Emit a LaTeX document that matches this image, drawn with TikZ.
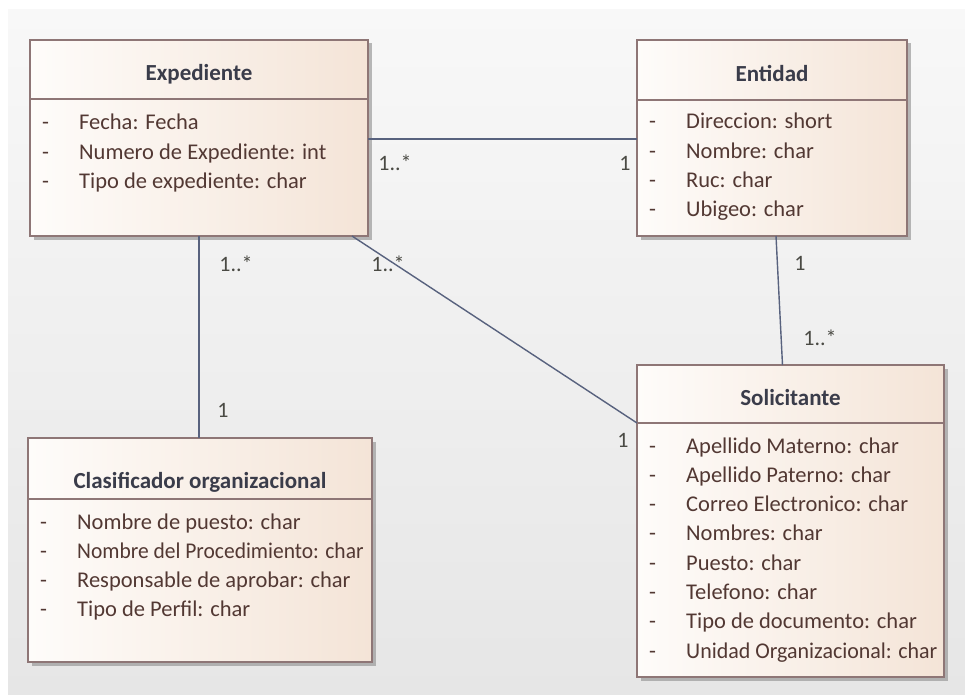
\documentclass[tikz,border=0pt]{standalone}
\usepackage{fontspec}
\usepackage{graphicx}
\setmainfont{Carlito}
\usetikzlibrary{shadows,calc}
\definecolor{bgtop}{HTML}{F8F8F8}
\definecolor{bgbot}{HTML}{E6E6E6}
\definecolor{boxborder}{HTML}{8E7676}
\definecolor{boxleft}{HTML}{FEFCFA}
\definecolor{boxright}{HTML}{F4E4D7}
\definecolor{titlecol}{HTML}{3A3C4A}
\definecolor{attrcol}{HTML}{523833}
\definecolor{linecol}{HTML}{58627E}
\definecolor{multcol}{HTML}{4A4A44}
\tikzset{
  classbox/.style={rectangle, draw=boxborder, line width=1.3pt, left color=boxleft, right color=boxright,
    inner sep=0pt, outer sep=0pt, anchor=north west,
    drop shadow={shadow xshift=3.5pt, shadow yshift=-3.5pt, fill=black!45, opacity=0.6}},
  sepline/.style={draw=boxborder, line width=1.3pt},
  classtitle/.style={font=\fontsize{23}{27}\selectfont\bfseries, text=titlecol, inner sep=0pt},
  attrs/.style={font=\fontsize{22.5}{29.3}\selectfont, text=attrcol, inner sep=0pt, anchor=base west},
  assoc/.style={draw=linecol, line width=1.4pt},
  mult/.style={font=\fontsize{22}{26}\selectfont, text=multcol, inner sep=0pt}
}
\newcommand{\attrtab}[1]{\begin{tabular}[t]{@{}p{37pt}@{}l@{}}#1\end{tabular}}
\begin{document}
\begin{tikzpicture}[x=1pt,y=-1pt]
\useasboundingbox (0,0) rectangle (965,695);
\fill[white] (0,0) rectangle (965,695);
\shade[top color=bgtop, bottom color=bgbot] (8,10) rectangle (965,695);

% Expediente
\node[classbox, minimum width=338pt, minimum height=196pt] (exp) at (30,40) {};
\draw[sepline] ([yshift=-59pt]exp.north west) -- ([yshift=-59pt]exp.north east);
\node[classtitle] (expt) at ([yshift=-34pt]exp.north) {Expediente};
\node[attrs] (expa) at ([xshift=12pt,yshift=-90pt]exp.north west) {\attrtab{%
- & Fecha: Fecha\\
- & Numero de Expediente: int\\
- & Tipo de expediente: char}};

% Entidad
\node[classbox, minimum width=270pt, minimum height=196pt] (ent) at (637,40) {};
\draw[sepline] ([yshift=-60pt]ent.north west) -- ([yshift=-60pt]ent.north east);
\node[classtitle] (entt) at ([yshift=-33pt]ent.north) {Entidad};
\node[attrs] (enta) at ([xshift=12pt,yshift=-89pt]ent.north west) {\attrtab{%
- & Direccion: short\\
- & Nombre: char\\
- & Ruc: char\\
- & Ubigeo: char}};

% Solicitante
\node[classbox, minimum width=307pt, minimum height=312pt] (sol) at (637,365) {};
\draw[sepline] ([yshift=-58pt]sol.north west) -- ([yshift=-58pt]sol.north east);
\node[classtitle] (solt) at ([yshift=-33pt]sol.north) {Solicitante};
\node[attrs] (sola) at ([xshift=12pt,yshift=-88pt]sol.north west) {\attrtab{%
- & Apellido Materno: char\\
- & Apellido Paterno: char\\
- & Correo Electronico: char\\
- & Nombres: char\\
- & Puesto: char\\
- & Telefono: char\\
- & Tipo de documento: char\\
- & \scalebox{0.975}[1]{Unidad Organizacional: char}}};

% Clasificador organizacional
\node[classbox, minimum width=344pt, minimum height=224pt] (cla) at (28,438) {};
\draw[sepline] ([yshift=-61pt]cla.north west) -- ([yshift=-61pt]cla.north east);
\node[classtitle] (clat) at ([yshift=-44pt]cla.north) {Clasificador organizacional};
\node[attrs] (claa) at ([xshift=12pt,yshift=-91pt]cla.north west) {\attrtab{%
- & Nombre de puesto: char\\
- & \scalebox{0.955}[1]{Nombre del Procedimiento: char}\\
- & Responsable de aprobar: char\\
- & Tipo de Perfil: char}};

% Associations
\draw[assoc] ([yshift=-99pt]exp.north east) -- ([yshift=-99pt]ent.north west);
\draw[assoc] (exp.south) -- (exp.south |- cla.north);
\draw[assoc] ([xshift=-16pt]exp.south east) -- ([yshift=-58pt]sol.north west);
\draw[assoc] ([xshift=4pt]ent.south) -- ([xshift=-8pt]sol.north);

% Multiplicities
\node[mult] (m1) at (395,163) {1..*};
\node[mult] (m2) at (625,163) {1};
\node[mult] (m3) at (388,264) {1..*};
\node[mult] (m4) at (623,440) {1};
\node[mult] (m5) at (236,264) {1..*};
\node[mult] (m6) at (223,410) {1};
\node[mult] (m7) at (800,263) {1};
\node[mult] (m8) at (820,338) {1..*};
\end{tikzpicture}
\end{document}
